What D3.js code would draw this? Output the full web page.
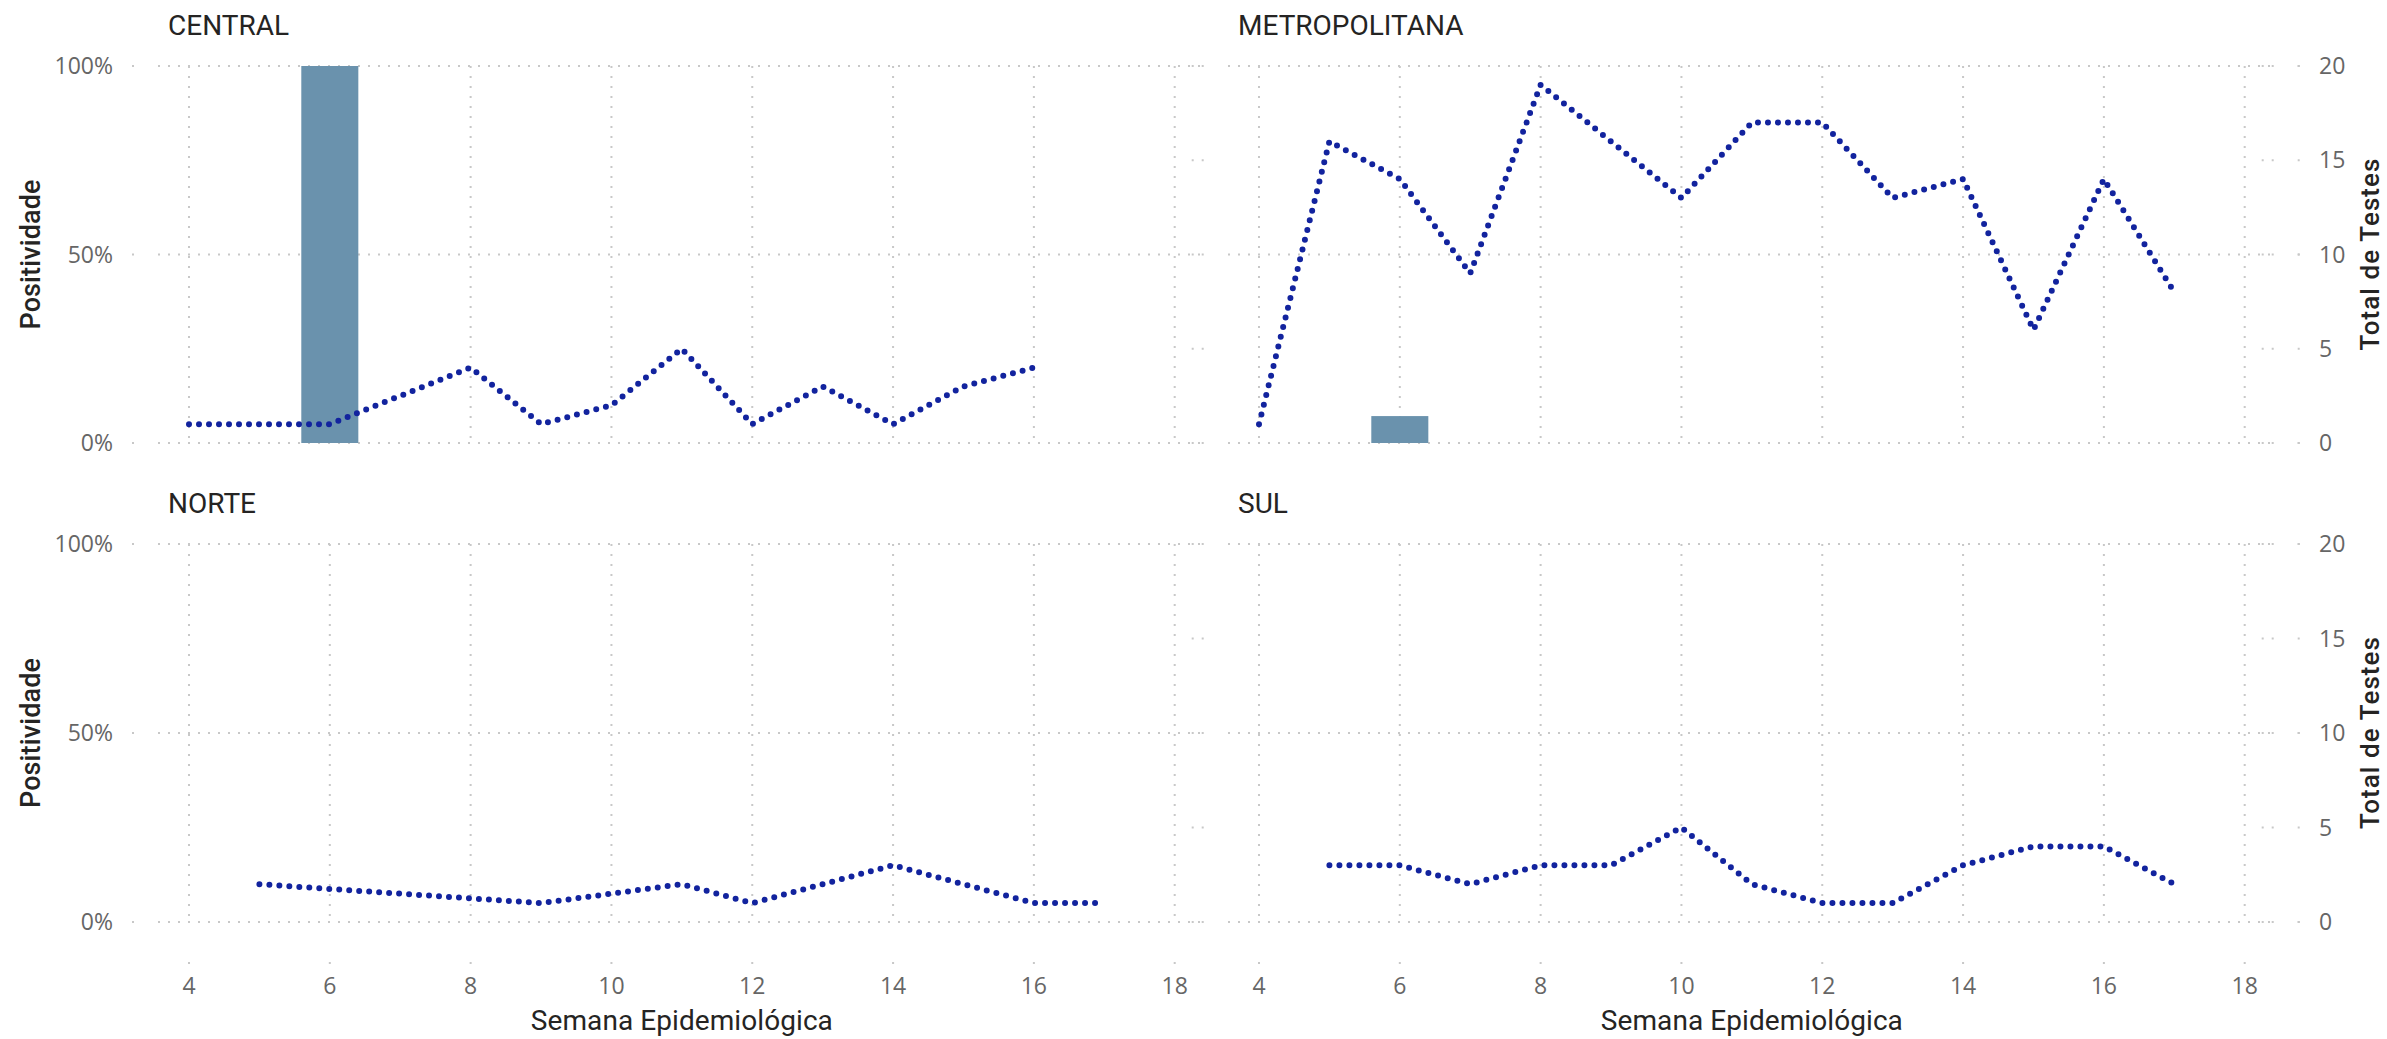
<!DOCTYPE html>
<html>
<head>
<meta charset="utf-8">
<script src="https://cdn.jsdelivr.net/npm/d3@7"></script>
<style>
  html, body { margin: 0; padding: 0; background: #fff; }
  svg { display: block; }
</style>
</head>
<body>
<svg id="chart" width="2387" height="1039"></svg>
<script>
// ---------------- DATA ----------------
const regions = ["CENTRAL", "METROPOLITANA", "NORTE", "SUL"];
const weeks = [4, 5, 6, 7, 8, 9, 10, 11, 12, 13, 14, 15, 16, 17];

// Total de Testes (line, right axis); null = no data that week
const testesCentral = [1, 1, 1, null, 4, 1, 2, 5, 1, 3, 1, 3, 4, null];
const testesMetropolitana = [1, 16, 14, 9, 19, 16, 13, 17, 17, 13, 14, 6, 14, 8];
const testesNorte = [null, 2, null, null, null, 1, null, 2, 1, 2, 3, 2, 1, 1];
const testesSul = [null, 3, 3, 2, 3, 3, 5, 2, 1, 1, 3, 4, 4, 2];

// Positividade (bars, left axis)
const positividadeCentral = [0, 0, 1.0, null, 0, 0, 0, 0, 0, 0, 0, 0, 0, null];
const positividadeMetropolitana = [0, 0, 0.0714, 0, 0, 0, 0, 0, 0, 0, 0, 0, 0, 0];
const positividadeNorte = [null, 0, null, null, null, 0, null, 0, 0, 0, 0, 0, 0, 0];
const positividadeSul = [null, 0, 0, 0, 0, 0, 0, 0, 0, 0, 0, 0, 0, 0];

const xTicks = [4, 6, 8, 10, 12, 14, 16, 18];
const pctTicks = [0, 0.5, 1];
const pctLabels = ["0%", "50%", "100%"];
const testTicks = [0, 5, 10, 15, 20];

const testesByRegion = [testesCentral, testesMetropolitana, testesNorte, testesSul];
const posByRegion = [positividadeCentral, positividadeMetropolitana, positividadeNorte, positividadeSul];

// ---------------- LAYOUT ----------------
const cols = [[189, 1174.7], [1259, 2244.7]];
const rows = [[443, 66], [922, 544]];
const gridColor = "#c8c8c8";
const lineColor = "#12239E";
const barColor = "#6A92AD";
const tickColor = "#666666";
const titleColor = "#252423";

const svg = d3.select("#chart");

regions.forEach((name, i) => {
  const c = i % 2, r = Math.floor(i / 2);
  const x = d3.scaleLinear().domain([4, 18]).range(cols[c]);
  const yL = d3.scaleLinear().domain([0, 1]).range(rows[r]);
  const yR = d3.scaleLinear().domain([0, 20]).range(rows[r]);
  const x0 = cols[c][0], x1 = cols[c][1];
  const yTop = rows[r][1], yBot = rows[r][0];
  const g = svg.append("g");

  // horizontal grid (primary)
  pctTicks.forEach(t => {
    g.append("line")
      .attr("x1", x0 - 31).attr("x2", x1 + 29)
      .attr("y1", yL(t)).attr("y2", yL(t))
      .attr("stroke", gridColor).attr("stroke-width", 2)
      .attr("stroke-dasharray", "2 8");
    const lone = c === 0 ? x0 - 56 : x1 + 54;
    g.append("rect").attr("x", lone - 1).attr("y", yL(t) - 1)
      .attr("width", 2).attr("height", 2).attr("fill", gridColor);
  });
  // secondary short ticks
  testTicks.forEach(t => {
    g.append("line")
      .attr("x1", x1 + 17).attr("x2", x1 + 29)
      .attr("y1", yR(t)).attr("y2", yR(t))
      .attr("stroke", gridColor).attr("stroke-width", 2)
      .attr("stroke-dasharray", "2 8");
    if (c === 1) {
      g.append("rect").attr("x", x1 + 53).attr("y", yR(t) - 1)
        .attr("width", 2).attr("height", 2).attr("fill", gridColor);
    }
  });
  // vertical grid
  xTicks.forEach(t => {
    g.append("line")
      .attr("x1", x(t)).attr("x2", x(t))
      .attr("y1", yTop).attr("y2", yBot)
      .attr("stroke", gridColor).attr("stroke-width", 2)
      .attr("stroke-dasharray", "2 8");
  });

  // bars
  const step = x(5) - x(4);
  const bw = step * 0.81;
  const posData = weeks.map((w, k) => ({ w, v: posByRegion[i][k] })).filter(d => d.v !== null && d.v > 0);
  g.selectAll("rect.bar").data(posData).enter().append("rect")
    .attr("class", "bar")
    .attr("x", d => x(d.w) - bw / 2)
    .attr("width", bw)
    .attr("y", d => yL(d.v))
    .attr("height", d => yL(0) - yL(d.v))
    .attr("fill", barColor);

  // line
  const lineData = weeks.map((w, k) => ({ w, v: testesByRegion[i][k] })).filter(d => d.v !== null);
  const line = d3.line().x(d => x(d.w)).y(d => yR(d.v));
  g.append("path").datum(lineData)
    .attr("d", line)
    .attr("fill", "none")
    .attr("stroke", lineColor)
    .attr("stroke-width", 6)
    .attr("stroke-linecap", "round")
    .attr("stroke-dasharray", "0 10");

  // title
  g.append("text")
    .attr("x", x0 - 21).attr("y", yTop - 31)
    .attr("font-family", "Roboto, sans-serif")
    .attr("font-size", 28)
    .attr("fill", titleColor)
    .text(name);

  // left axis labels & title
  if (c === 0) {
    pctTicks.forEach((t, k) => {
      g.append("text")
        .attr("x", 113).attr("y", yL(t))
        .attr("dy", "0.35em")
        .attr("text-anchor", "end")
        .attr("font-family", "'Open Sans', sans-serif")
        .attr("font-size", 23)
        .attr("fill", tickColor)
        .text(pctLabels[k]);
    });
    g.append("text")
      .attr("transform", `translate(40,${(yTop + yBot) / 2}) rotate(-90)`)
      .attr("text-anchor", "middle")
      .attr("font-family", "Roboto, sans-serif")
      .attr("font-weight", 500)
      .attr("font-size", 27)
      .attr("textLength", 150)
      .attr("lengthAdjust", "spacing")
      .attr("fill", titleColor)
      .text("Positividade");
  } else {
    testTicks.forEach(t => {
      g.append("text")
        .attr("x", 2319).attr("y", yR(t))
        .attr("dy", "0.35em")
        .attr("text-anchor", "start")
        .attr("font-family", "'Open Sans', sans-serif")
        .attr("font-size", 23)
        .attr("fill", tickColor)
        .text(t);
    });
    g.append("text")
      .attr("transform", `translate(2379,${(yTop + yBot) / 2}) rotate(-90)`)
      .attr("text-anchor", "middle")
      .attr("font-family", "Roboto, sans-serif")
      .attr("font-weight", 500)
      .attr("font-size", 26)
      .attr("textLength", 192)
      .attr("lengthAdjust", "spacing")
      .attr("fill", titleColor)
      .text("Total de Testes");
  }

  // x axis (bottom row only)
  if (r === 1) {
    xTicks.forEach(t => {
      g.append("rect").attr("x", x(t) - 1).attr("y", 962)
        .attr("width", 2).attr("height", 2).attr("fill", gridColor);
      g.append("text")
        .attr("x", x(t)).attr("y", 986)
        .attr("dy", "0.35em")
        .attr("text-anchor", "middle")
        .attr("font-family", "'Open Sans', sans-serif")
        .attr("font-size", 23)
        .attr("fill", tickColor)
        .text(t);
    });
    g.append("text")
      .attr("x", (x0 + x1) / 2).attr("y", 1030)
      .attr("text-anchor", "middle")
      .attr("font-family", "Roboto, sans-serif")
      .attr("font-size", 28)
      .attr("textLength", 302)
      .attr("lengthAdjust", "spacing")
      .attr("fill", titleColor)
      .text("Semana Epidemiológica");
  }
});
</script>
</body>
</html>
